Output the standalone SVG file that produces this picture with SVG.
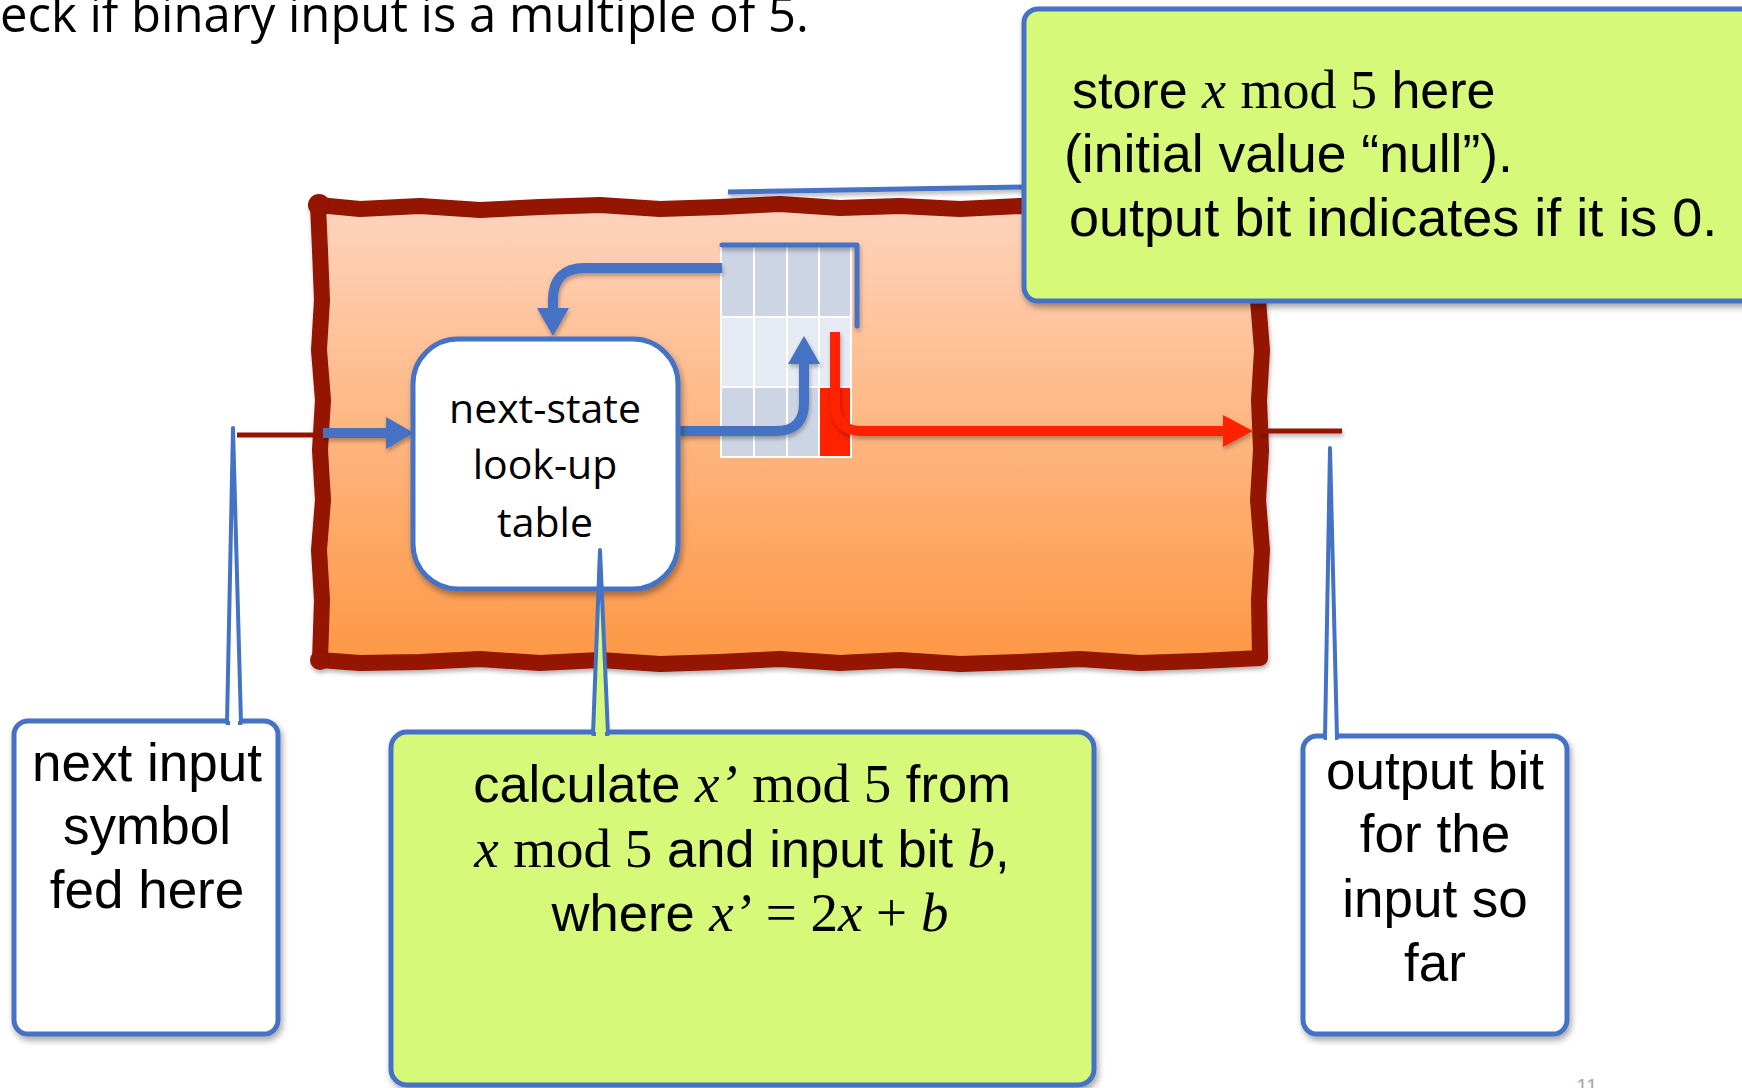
<svg xmlns="http://www.w3.org/2000/svg" width="1742" height="1088" viewBox="0 0 1742 1088">
<style>
.sans{font-family:"Liberation Sans",Arial,sans-serif;fill:#000}
.ser{font-family:"Liberation Serif","Times New Roman",serif}
.it{font-style:italic}
.cal{font-family:"Open Sans","Liberation Sans",sans-serif;fill:#000}
.callout{fill:#D6F97A;stroke:#4472C4;stroke-width:5}
.wbox{fill:#FFFFFF;stroke:#4472C4;stroke-width:5}
.arrowB{fill:none;stroke:#4472C4;stroke-width:10}
.dark{fill:none;stroke:#951200;stroke-width:5}
.dk{fill:#CDD4E4}
.lt{fill:#E6EAF3}
</style>
<defs>
<linearGradient id="og" x1="0" y1="0" x2="0" y2="1">
<stop offset="0" stop-color="#FED4BD"/>
<stop offset="1" stop-color="#FD9743"/>
</linearGradient>
<filter id="sh" filterUnits="userSpaceOnUse" x="0" y="0" width="1742" height="1088">
<feDropShadow dx="2" dy="4" stdDeviation="3" flood-color="#000" flood-opacity="0.35"/>
</filter>
<filter id="shs" filterUnits="userSpaceOnUse" x="0" y="0" width="1742" height="1088">
<feDropShadow dx="1" dy="3" stdDeviation="2" flood-color="#000" flood-opacity="0.3"/>
</filter>
<marker id="mb" viewBox="0 0 28 32" markerUnits="userSpaceOnUse" markerWidth="28" markerHeight="32" refX="0" refY="16" orient="auto">
<path d="M0,0 L28,16 L0,32 Z" fill="#4472C4"/>
</marker>
<marker id="mr" viewBox="0 0 30 32" markerUnits="userSpaceOnUse" markerWidth="30" markerHeight="32" refX="0" refY="16" orient="auto">
<path d="M0,0 L30,16 L0,32 Z" fill="#FF2200"/>
</marker>
</defs>

<rect width="1742" height="1088" fill="#FFFFFF"/>

<g id="title">
<text class="cal" x="0" y="32" font-size="49">eck if binary input is a multiple of 5.</text>
</g>

<g id="machine" filter="url(#shs)">
<path d="M318,205 L360,209 L420,206 L480,210 L540,207 L600,205 L660,209 L720,207 L780,204 L840,208 L900,206 L960,209 L1020,206 L1080,208 L1140,205 L1200,208 L1258,206 L1261,250 L1258,300 L1262,350 L1259,400 L1261,450 L1258,500 L1262,550 L1259,600 L1260,658 L1200,661 L1140,663 L1080,659 L1020,662 L960,664 L900,660 L840,663 L780,659 L720,662 L660,664 L600,660 L540,663 L480,659 L420,662 L360,663 L320,660 L322,600 L319,550 L323,500 L320,450 L323,400 L319,350 L322,300 L320,250 Z" fill="url(#og)" stroke="#951200" stroke-width="16" stroke-linejoin="round"/>
<circle cx="319" cy="205" r="11" fill="#951200"/>
<circle cx="320" cy="660" r="10" fill="#951200"/>
</g>

<g id="state-table">
<rect x="720" y="243" width="132" height="215" fill="#FFFFFF"/>
<rect class="dk" x="722" y="245" width="31" height="71"/>
<rect class="dk" x="755" y="245" width="31" height="71"/>
<rect class="dk" x="788" y="245" width="30" height="71"/>
<rect class="dk" x="820" y="245" width="30" height="71"/>
<rect class="lt" x="722" y="318" width="31" height="68"/>
<rect class="lt" x="755" y="318" width="31" height="68"/>
<rect class="lt" x="788" y="318" width="30" height="68"/>
<rect class="lt" x="820" y="318" width="30" height="68"/>
<rect class="dk" x="722" y="388" width="31" height="68"/>
<rect class="dk" x="755" y="388" width="31" height="68"/>
<rect class="dk" x="788" y="388" width="30" height="68"/>
<rect x="820" y="388" width="30" height="68" fill="#FF2200"/>
<path d="M722,245 H857 V326" fill="none" stroke="#4472C4" stroke-width="5" stroke-linejoin="round" stroke-linecap="round" filter="url(#shs)"/>
</g>

<g id="connectors">
<line class="dark" x1="237" y1="435" x2="322" y2="435" stroke-width="4"/>
<line class="dark" x1="1259" y1="431" x2="1342" y2="431" filter="url(#shs)"/>
<path class="arrowB" d="M323,433 H386" marker-end="url(#mb)" filter="url(#shs)"/>
<path class="arrowB" d="M678,431 H776 Q804,431 804,403 V364" marker-end="url(#mb)" filter="url(#shs)"/>
<path class="arrowB" d="M722,268 H585 Q553,268 553,300 V308" marker-end="url(#mb)" filter="url(#shs)"/>
<path d="M835,332 V404 Q835,431 862,431 H1223" fill="none" stroke="#FF2200" stroke-width="10" marker-end="url(#mr)" filter="url(#shs)"/>
</g>

<g id="next-state">
<rect class="wbox" x="413" y="339" width="265" height="250" rx="45" filter="url(#sh)"/>
<text class="cal" font-size="41" text-anchor="middle"><tspan x="545" y="423">next-state</tspan><tspan x="545" y="479">look-up</tspan><tspan x="545" y="537">table</tspan></text>
</g>

<g id="store-callout">
<line x1="728" y1="192" x2="1030" y2="187" stroke="#4472C4" stroke-width="5" filter="url(#shs)"/>
<rect class="callout" x="1024" y="9" width="760" height="292" rx="14" filter="url(#sh)"/>
<text class="sans" font-size="52" x="1072" y="108">store <tspan class="ser it" font-size="54">x</tspan> <tspan class="ser" font-size="54">mod 5</tspan> here</text>
<text class="sans" font-size="53.5" x="1064" y="172">(initial value “null”).</text>
<text class="sans" font-size="54" x="1069" y="236">output bit indicates if it is 0.</text>
</g>

<g id="input-callout">
<rect class="wbox" x="14" y="721" width="264" height="313" rx="14" filter="url(#sh)"/>
<polygon points="227,723 233,428 241,723" fill="#FFFFFF" stroke="#4472C4" stroke-width="4" stroke-linejoin="round"/>
<rect x="230" y="719" width="8" height="8" fill="#FFFFFF"/>
<text class="sans" font-size="53" text-anchor="middle"><tspan x="147" y="781">next input</tspan><tspan x="147" y="844">symbol</tspan><tspan x="147" y="908">fed here</tspan></text>
</g>

<g id="calc-callout">
<rect class="callout" x="391" y="732" width="703" height="353" rx="16" filter="url(#sh)"/>
<polygon points="593,734 600,550 608,734" fill="#D6F97A" stroke="#4472C4" stroke-width="4" stroke-linejoin="round"/>
<rect x="596" y="730" width="9" height="8" fill="#D6F97A"/>
<text class="sans" font-size="52.5" text-anchor="middle" x="742" y="802">calculate <tspan class="ser it" font-size="55">x’</tspan> <tspan class="ser" font-size="55">mod 5</tspan> from</text>
<text class="sans" font-size="52.5" text-anchor="middle" x="742" y="867"><tspan class="ser it" font-size="55">x</tspan> <tspan class="ser" font-size="55">mod 5</tspan> and input bit <tspan class="ser it" font-size="55">b</tspan>,</text>
<text class="sans" font-size="52.5" text-anchor="middle" x="750" y="931">where <tspan class="ser" font-size="55"><tspan class="it">x’</tspan> = 2<tspan class="it">x</tspan> + <tspan class="it">b</tspan></tspan></text>
</g>

<g id="output-callout">
<rect class="wbox" x="1303" y="736" width="264" height="298" rx="14" filter="url(#sh)"/>
<polygon points="1325,738 1330,448 1337,738" fill="#FFFFFF" stroke="#4472C4" stroke-width="4" stroke-linejoin="round"/>
<rect x="1327" y="734" width="8" height="8" fill="#FFFFFF"/>
<text class="sans" font-size="53" text-anchor="middle"><tspan x="1435" y="789">output bit</tspan><tspan x="1435" y="852">for the</tspan><tspan x="1435" y="917">input so</tspan><tspan x="1435" y="981">far</tspan></text>
</g>

<g id="page-number">
<text class="sans" x="1587" y="1093" font-size="20" text-anchor="middle" style="fill:#A6A6A6">11</text>
</g>
</svg>
